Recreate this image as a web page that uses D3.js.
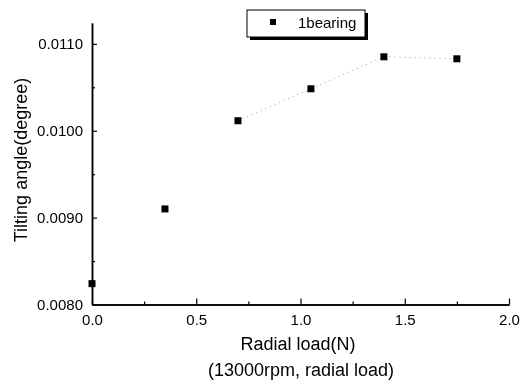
<!DOCTYPE html>
<html>
<head>
<meta charset="utf-8">
<script src="https://cdn.jsdelivr.net/npm/d3@7"></script>
<style>
  body { margin: 0; background: #fff; }
  svg { filter: grayscale(1); }
  text { font-family: "Liberation Sans", Arial, sans-serif; fill: #000; }
</style>
</head>
<body>
<svg id="chart" width="528" height="380"></svg>
<script>
"use strict";

// data
var loads = [0.0, 0.35, 0.7, 1.05, 1.4, 1.75];
var tilt = [0.00824, 0.00910, 0.010115, 0.010483, 0.010851, 0.010828];
var xTicks = [0.0, 0.5, 1.0, 1.5, 2.0];
var yTicks = [0.0080, 0.0090, 0.0100, 0.0110];
var seriesName = "1bearing";

var svg = d3.select("#chart");

var x = d3.scaleLinear().domain([0, 2.0]).range([92, 509]);
var y = d3.scaleLinear().domain([0.0080, 0.01124]).range([304.5, 23]);

var points = loads.map(function(d, i) { return {x: d, y: tilt[i]}; });

// axes (ticks pointing inward)
var xAxis = d3.axisBottom(x).tickValues(xTicks).tickFormat(d3.format(".1f"))
	.tickSizeInner(-6).tickSizeOuter(0).tickPadding(10);
var xMinor = d3.axisBottom(x).tickValues([0.25, 0.75, 1.25, 1.75])
	.tickSizeInner(-3).tickSizeOuter(0).tickFormat("");
var yAxis = d3.axisLeft(y).tickValues(yTicks).tickFormat(d3.format(".4f"))
	.tickSizeInner(-5).tickSizeOuter(0).tickPadding(9);
var yMinor = d3.axisLeft(y).tickValues([0.0085, 0.0095, 0.0105])
	.tickSizeInner(-3).tickSizeOuter(0).tickFormat("");

function style(g) {
	g.select(".domain").attr("stroke", "#000").attr("stroke-width", 1.5);
	g.selectAll(".tick line").attr("stroke", "#000").attr("stroke-width", 1.2);
	g.selectAll("text").style("font-size", "15px").attr("fill", "#000");
}

svg.append("g").attr("transform", "translate(0,304.5)").call(xMinor).call(style);
svg.append("g").attr("transform", "translate(0,304.5)").call(xAxis).call(style)
	.selectAll("text").attr("dy", "0.71em");
svg.append("g").attr("transform", "translate(92,0)").call(yMinor).call(style);
svg.append("g").attr("transform", "translate(92,0)").call(yAxis).call(style);

// faint dotted connecting line (only visible from the third point on)
var line = d3.line().x(function(d) { return x(d.x); }).y(function(d) { return y(d.y); });
svg.append("path")
	.datum(points.slice(2))
	.attr("d", line)
	.attr("fill", "none")
	.attr("stroke", "#9a9a9a")
	.attr("stroke-width", 1)
	.attr("stroke-dasharray", "1,4");

// markers
svg.selectAll(".pt").data(points).enter().append("rect")
	.attr("class", "pt")
	.attr("x", function(d) { return x(d.x) - 3.5; })
	.attr("y", function(d) { return y(d.y) - 3.5; })
	.attr("width", 7)
	.attr("height", 7)
	.attr("fill", "#000");

// axis titles
svg.append("text")
	.attr("transform", "translate(27,160) rotate(-90)")
	.attr("text-anchor", "middle")
	.attr("fill", "#000")
	.style("font-size", "18px")
	.text("Tilting angle(degree)");

svg.append("text")
	.attr("x", 298).attr("y", 350)
	.attr("text-anchor", "middle")
	.style("font-size", "18px")
	.text("Radial load(N)");

svg.append("text")
	.attr("x", 301).attr("y", 376)
	.attr("text-anchor", "middle")
	.style("font-size", "18px")
	.text("(13000rpm, radial load)");

// legend with drop shadow
var leg = svg.append("g");
leg.append("rect").attr("x", 250).attr("y", 13).attr("width", 118).attr("height", 27).attr("fill", "#000");
leg.append("rect").attr("x", 247).attr("y", 10).attr("width", 118).attr("height", 27)
	.attr("fill", "#fff").attr("stroke", "#000").attr("stroke-width", 1);
leg.append("rect").attr("x", 270).attr("y", 19).attr("width", 6).attr("height", 6).attr("fill", "#000");
leg.append("text").attr("x", 298).attr("y", 28).style("font-size", "15px").text(seriesName);
</script>
</body>
</html>
